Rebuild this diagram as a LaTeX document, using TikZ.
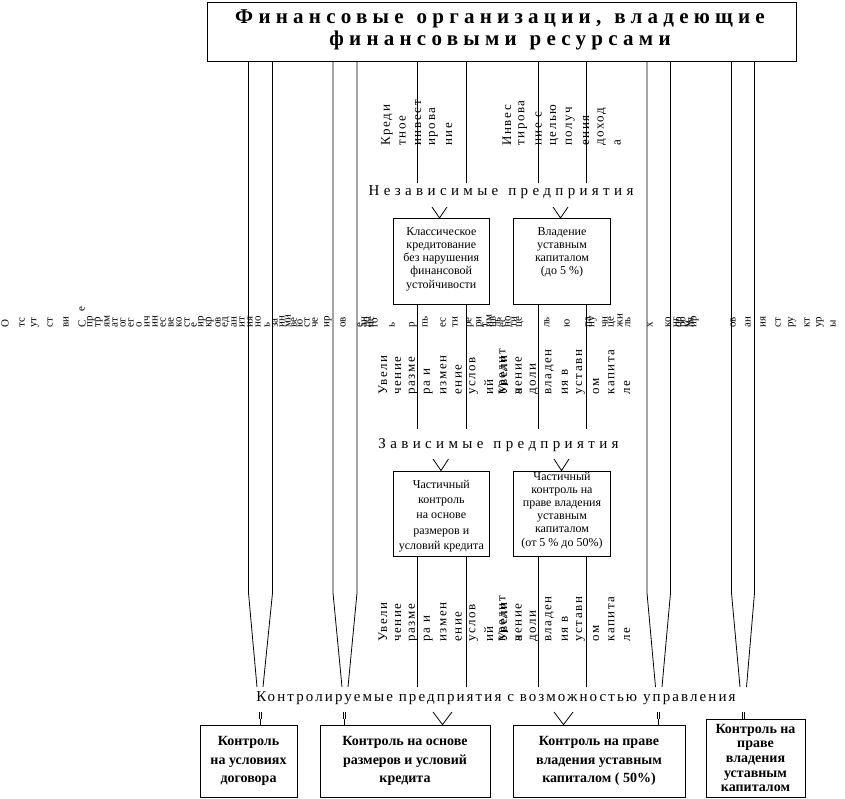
\documentclass[tikz,border=0pt]{standalone}
\usepackage{fontspec}
\setmainfont{Liberation Serif}
\newcommand\ftitle{\fontsize{21}{22}\selectfont\bfseries\addfontfeatures{LetterSpace=25}}
\newcommand\flabA{\fontsize{15}{18}\selectfont\addfontfeatures{LetterSpace=29}}
\newcommand\flabB{\fontsize{15}{18}\selectfont\addfontfeatures{LetterSpace=14}}
\newcommand\fmidA{\fontsize{12}{13.3}\selectfont}
\newcommand\fmidB{\fontsize{12}{15.3}\selectfont}
\newcommand\fmidC{\fontsize{12}{13.2}\selectfont}
\newcommand\fbotA{\fontsize{14}{18.5}\selectfont\bfseries}
\newcommand\fbotD{\fontsize{14}{14.7}\selectfont\bfseries}
\newcommand\frot{\fontsize{13}{13}\selectfont\addfontfeatures{LetterSpace=12}}
\newcommand\ffrag{\fontsize{11}{11}\selectfont}
\begin{document}
\begin{tikzpicture}[x=1pt,y=-1pt,line width=0.8pt,
  boxn/.style={draw,line width=0.8pt,inner sep=0pt},
  txt/.style={inner sep=0pt,align=center},
  rot/.style={rotate=90,anchor=west,inner sep=0pt,font=\frot},
  frag/.style={rotate=90,anchor=west,inner sep=0pt,font=\ffrag},
  thin/.style={line width=0.6pt}]
\useasboundingbox (0,0) rectangle (845,799);

% title box
\node[boxn,minimum width=589pt,minimum height=59pt] (top) at (501.5,31.5) {};
\node[txt,font=\ftitle] (title) at (500,29.5) {Финансовые\hspace{13pt}организации,\hspace{13pt}владеющие\\финансовыми\hspace{13pt}ресурсами};

% long tapered lines
\foreach \a/\ca in {248.5/257,272.5/263,333/342,357/348,647/655.5,670.5/662,731.5/740,754.5/746.5}
  \draw (top.south -| \a,0) -- (\a,593) -- (\ca,687);

% inner vertical lines
\foreach \a in {417.5,466,538.3,586.7}{
  \draw (top.south -| \a,0) -- (\a,183);
  \draw (\a,304) -- (\a,429);
  \draw (\a,556.7) -- (\a,687);
}

% rotated texts, top
\foreach \t [count=\i from 0] in {Креди,тное,инвест,ирова,ние}
  \node[rot] (kr\i) at (387+15.5*\i,146) {\t};
\foreach \t [count=\i from 0] in {Инвес,тирова,ние с,целью,получ,ения,доход,а}
  \node[rot] (iv\i) at (507+15.8*\i,146) {\t};

% labels
\node[txt,font=\flabA] (indep) at (501,192) {Независимые\hspace{10pt}предприятия};
\node[txt,font=\flabA] (dep) at (498.5,445) {Зависимые\hspace{10pt}предприятия};
\node[txt,font=\flabB] (ctrl) at (496,698) {Контролируемые предприятия с возможностью управления};

% upper boxes
\node[boxn,minimum width=96pt,minimum height=85.7pt] (k1) at (441.3,261.2) {};
\node[boxn,minimum width=97.4pt,minimum height=85.7pt] (k2) at (562,261.2) {};
\node[txt,font=\fmidA] (k1t) at (441.3,259) {Классическое\\кредитование\\без нарушения\\финансовой\\устойчивости};
\node[txt,font=\fmidA] (k2t) at (562,252.3) {Владение\\уставным\\капиталом\\(до 5 \%)};
\draw (432,207) -- (k1.north -| 439.5,0) -- (447,207);
\draw (553,207) -- (k2.north -| 560.5,0) -- (568,207);

% garbled row
\foreach \x/\t in {5/О,22/тс,35/ут,50/ст,66/ви,82/С,91/пр,99/тр,107/ям,115/ат,123/ог,131/ег,139/о,147/ич,155/ин,163/ес,171/ве,179/ко,187/ст,194/е,202/ир,210/кр,218/ов,226/ед,234/ан,242/ит,250/ия,258/но,267/ь,275/за,282/ин,288/ми,294/ве,300/ю,307/ст,315/че,328/ир,343/ов,360/е,364/ан,368/до,371/не,375/го,392/ь,413/р,425/пь,443/ес,455/ти,470/ре,480/ри,485/т,489/им,493/нв,498/ль,503/ес,508/но,514/ти,520/це,547/ль,567/ю,588/па,593/ну,605/чн,612/це,620/жи,628/ль,650/х,668/ко,676/нг,680/ор,684/ро,688/м,691/ля,695/ир,733/ов,748/ан,763/ия,778/ст,792/ру,807/кт,820/ур,833/ы}
  \node[frag] at (\x,328) {\t};
\node[frag] (fe) at (82,312) {е};

% middle rotated texts
\foreach \yy/\s in {395/a,642/b}{
  \foreach \t [count=\i from 0] in {Увели,чение,разме,ра и,измен,ение,услов,ий,кредит,а}
    \node[rot] (u\s\i) at (383+15.1*\i,\yy) {\t};
  \foreach \t [count=\i from 0] in {Увели,чение,доли,владен,ия в,уставн,ом,капита,ле}
    \node[rot] (v\s\i) at (503+15.5*\i,\yy) {\t};
}

% lower boxes
\node[boxn,minimum width=96pt,minimum height=85.7pt] (p1) at (441.3,513.8) {};
\node[boxn,minimum width=97.4pt,minimum height=85.7pt] (p2) at (562,513.8) {};
\node[txt,font=\fmidB] (p1t) at (441.3,516) {Частичный\\контроль\\на основе\\размеров и\\условий кредита};
\node[txt,font=\fmidC] (p2t) at (562,510.3) {Частичный\\контроль на\\праве владения\\уставным\\капиталом\\(от 5 \% до 50\%)};
\draw (433,459) -- (p1.north -| 441,0) -- (448.5,459);
\draw (554,459) -- (p2.north -| 561.5,0) -- (569,459);

% bottom boxes
\node[boxn,txt,font=\fbotA,minimum width=97pt,minimum height=72pt] (ba) at (248.5,761) {Контроль\\на условиях\\договора};
\node[boxn,txt,font=\fbotA,minimum width=170pt,minimum height=72pt] (bb) at (405,761) {Контроль на основе\\размеров и условий\\кредита};
\node[boxn,txt,font=\fbotA,minimum width=172pt,minimum height=72pt] (bc) at (599,761) {Контроль на праве\\владения уставным\\капиталом ( 50\%)};
\node[boxn,txt,font=\fbotD,minimum width=99pt,minimum height=78pt] (bd) at (755.5,758) {Контроль на\\праве\\владения\\уставным\\капиталом};

% bottom connectors
\foreach \x/\b in {260/ba,344/bb,658.5/bc,743/bd}{
  \draw[thin] (\x-1.1,712) -- (\x-1.1,719);
  \draw[thin] (\x+1.1,712) -- (\x+1.1,719);
  \draw (\x,719) -- (\b.north -| \x,0);
}
\draw (433,712) -- (bb.north -| 442.5,0) -- (452,712);
\draw (554,712) -- (bc.north -| 563.5,0) -- (573,712);
\end{tikzpicture}
\end{document}
